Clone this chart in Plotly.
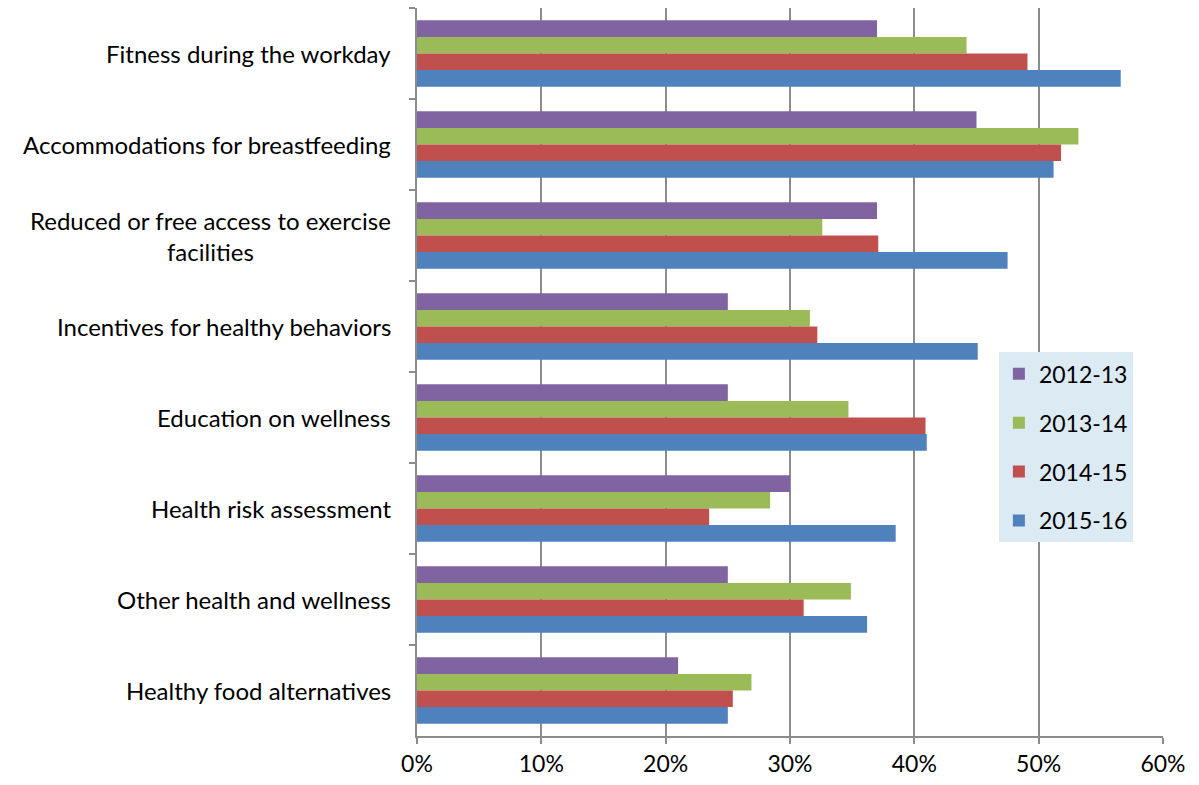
import plotly.graph_objects as go

categories = [
    "Fitness during the workday",
    "Accommodations for breastfeeding",
    "Reduced or free access to exercise<br>facilities",
    "Incentives for healthy behaviors",
    "Education on wellness",
    "Health risk assessment",
    "Other health and wellness",
    "Healthy food alternatives",
]

years = ["2012-13", "2013-14", "2014-15", "2015-16"]
v_2012_13 = [37.0, 45.0, 37.0, 25.0, 25.0, 30.0, 25.0, 21.0]
v_2013_14 = [44.2, 53.2, 32.6, 31.6, 34.7, 28.4, 34.9, 26.9]
v_2014_15 = [49.1, 51.8, 37.1, 32.2, 40.9, 23.5, 31.1, 25.4]
v_2015_16 = [56.6, 51.2, 47.5, 45.1, 41.0, 38.5, 36.2, 25.0]
series = [v_2012_13, v_2013_14, v_2014_15, v_2015_16]
colors = ["#8064A2", "#9BBB59", "#C0504D", "#4F81BD"]

x_ticks = [0, 10, 20, 30, 40, 50, 60]
x_tick_text = [f"{t}%" for t in x_ticks]

FONT = "Lato, 'Open Sans', sans-serif"

fig = go.Figure()
for name, vals, col in zip(years, series, colors):
    fig.add_trace(go.Bar(
        y=categories, x=vals, name=name, orientation="h",
        marker=dict(color=col, line=dict(width=0)),
        legendgroup=name,
    ))

# category labels as annotations so wrapped lines are centred
for cat in categories:
    fig.add_annotation(
        x=0, xref="paper", y=cat, yref="y",
        text=cat, showarrow=False, xanchor="right", align="center",
        xshift=-24, font=dict(family=FONT, size=24, color="#000000"),
    )

fig.update_layout(
    width=1199, height=785,
    margin=dict(l=417, r=36, t=8, b=47),
    paper_bgcolor="white", plot_bgcolor="white",
    barmode="group", bargap=0.27, bargroupgap=0,
    font=dict(family=FONT, size=23, color="#000000"),
    showlegend=True,
    legend=dict(
        x=0.78, y=0.527, xanchor="left", yanchor="top",
        bgcolor="#DBEAF3", borderwidth=0,
        font=dict(family=FONT, size=23, color="#000000"),
        tracegroupgap=16,
        traceorder="grouped",
    ),
)

fig.update_xaxes(
    range=[0, 60], tickvals=x_ticks, ticktext=x_tick_text,
    showgrid=True, gridcolor="#8C8C8C", gridwidth=2,
    showline=True, linecolor="#8C8C8C", linewidth=2,
    ticks="outside", ticklen=6, tickcolor="#8C8C8C", tickwidth=2,
    zeroline=False, tickfont=dict(family=FONT, size=23, color="#000000"),
    fixedrange=True,
)
fig.update_yaxes(
    autorange="reversed", showticklabels=False,
    showline=True, linecolor="#8C8C8C", linewidth=2,
    ticks="outside", ticklen=6, tickcolor="#8C8C8C", tickwidth=2,
    tickson="boundaries", showgrid=False, fixedrange=True,
)

fig.write_html("out.html")
